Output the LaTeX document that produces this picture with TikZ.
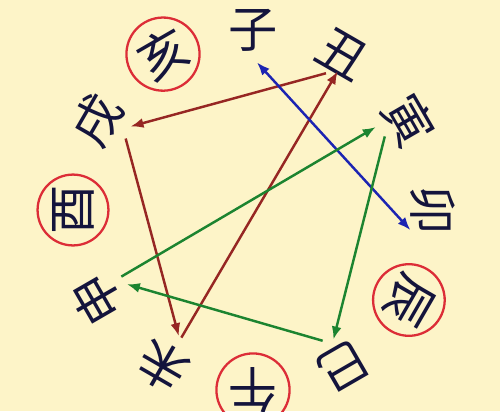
\documentclass[tikz,border=0pt]{standalone}
\usepackage{fontspec}
\newfontfamily\cjk{Noto Sans CJK SC}
\usetikzlibrary{arrows.meta}
\definecolor{paper}{RGB}{253,244,200}
\definecolor{ink}{RGB}{20,20,60}
\definecolor{ringred}{RGB}{220,45,55}
\definecolor{clashred}{RGB}{150,38,35}
\definecolor{punblue}{RGB}{28,36,178}
\definecolor{pungreen}{RGB}{28,132,48}
\tikzset{
  branch/.style={circle, inner sep=0pt, text=ink, font=\cjk\fontsize{28}{28}\selectfont},
  ring/.style={branch, draw=ringred, line width=1.3pt, inner sep=0.045cm},
  link/.style={line width=1.4pt, >={Latex[length=2.6mm,width=2mm]}},
}

\begin{document}
\begin{tikzpicture}
  \useasboundingbox (-5.06,-4.02) rectangle (4.94,4.20);
  \fill[paper] (-5.06,-4.02) rectangle (4.94,4.20);
  % the twelve branches, tops pointing outwards
  \node[branch, rotate=0] (zi) at (90:3.6) {子};
  \node[branch, rotate=-30] (chou) at (60:3.6) {丑};
  \node[branch, rotate=-60] (yin) at (30:3.6) {寅};
  \node[branch, rotate=-90] (mao) at (0:3.6) {卯};
  \node[ring, rotate=-120] (chen) at (-30:3.6) {辰};
  \node[branch, rotate=-150] (si) at (-60:3.6) {巳};
  \node[ring, rotate=180] (wu) at (-90:3.6) {午};
  \node[branch, rotate=150] (wei) at (-120:3.6) {未};
  \node[branch, rotate=120] (shen) at (-150:3.6) {申};
  \node[ring, rotate=90] (you) at (180:3.6) {酉};
  \node[branch, rotate=60] (xu) at (150:3.6) {戌};
  \node[ring, rotate=30] (hai) at (120:3.6) {亥};
  % red triangle
  \draw[link, clashred, ->, shorten <=-0.15cm] (chou.251) -- (xu.-71);
  \draw[link, clashred, ->] (xu.-93) -- (wei.-88);
  \draw[link, clashred, ->, shorten >=-0.29cm] (wei.-93) -- (chou.277);
  % blue
  \draw[link, punblue, <->, shorten >=-0.28cm] (zi.-83) -- (mao.287);
  % green triangle
  \draw[link, pungreen, ->] (shen.-76) -- (yin.252);
  \draw[link, pungreen, ->, shorten <=-0.12cm, shorten >=-0.1cm] (yin.-79) -- (si.255);
  \draw[link, pungreen, ->] (si.-81) -- (shen.-92);
\end{tikzpicture}
\end{document}
